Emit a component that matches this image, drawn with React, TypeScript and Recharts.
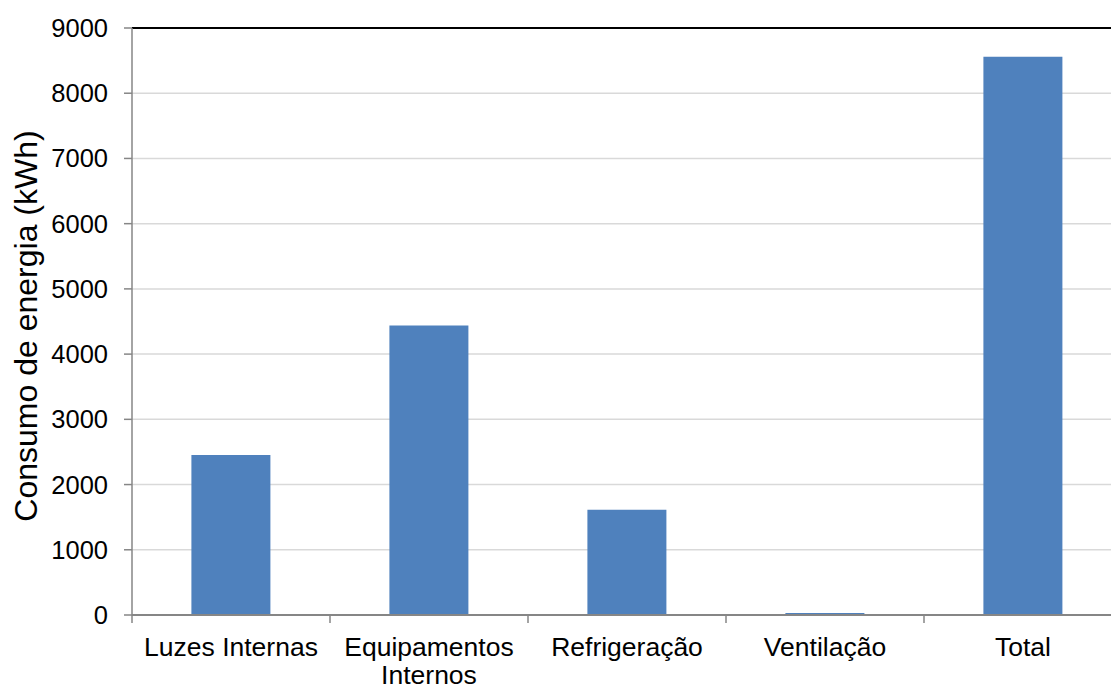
import { BarChart, Bar, XAxis, YAxis, CartesianGrid, ReferenceLine } from 'recharts';

const categories = ['Luzes Internas', 'Equipamentos Internos', 'Refrigeração', 'Ventilação', 'Total'];
const consumo = [2455, 4440, 1615, 30, 8560];
const yTicks = [0, 1000, 2000, 3000, 4000, 5000, 6000, 7000, 8000, 9000];

const data = categories.map((name, i) => ({ name, consumo: consumo[i] }));

const FONT = '"Liberation Sans", Arial, sans-serif';
const CHART_W = 1130;
const CHART_H = 687;
const X_AXIS_H = 30;
const MARGIN = { top: 28, right: 8, left: 0, bottom: 72 - X_AXIS_H };
const Y_AXIS_W = 132;

const CategoryTick = (props: any) => {
    const { x, y, payload } = props;
    const band = (CHART_W - MARGIN.left - MARGIN.right - Y_AXIS_W) / categories.length;
    const label: string = payload.value;
    const lines = label.length > 16 ? label.split(' ') : [label];
    const idx = categories.indexOf(label);
    return (
        <g>
            <line x1={x - band / 2} x2={x - band / 2} y1={y} y2={y + 8} stroke="#868686" strokeWidth={1.5} />
            {idx === categories.length - 1 && (
                <line x1={x + band / 2} x2={x + band / 2} y1={y} y2={y + 8} stroke="#868686" strokeWidth={1.5} />
            )}
            <text x={x} y={y} textAnchor="middle" fontFamily={FONT} fontSize={26.5} fill="#000">
                {lines.map((ln, i) => (
                    <tspan key={i} x={x} y={y + 41 + i * 28}>
                        {ln}
                    </tspan>
                ))}
            </text>
        </g>
    );
};

const YTitle = () => (
    <text
        x={26}
        y={326}
        transform="rotate(-90, 26, 326)"
        textAnchor="middle"
        dominantBaseline="central"
        fontFamily={FONT}
        fontSize={32}
        fill="#000"
    >
        Consumo de energia (kWh)
    </text>
);

export default function App() {
    return (
        <div style={{ position: 'fixed', left: 0, top: 0, width: 1111, height: 687, overflow: 'hidden', background: '#fff' }}>
            <BarChart width={CHART_W} height={CHART_H} data={data} margin={MARGIN} barCategoryGap="30%">
                <CartesianGrid vertical={false} stroke="#d9d9d9" strokeWidth={1.5} />
                <XAxis
                    dataKey="name"
                    height={X_AXIS_H}
                    tickLine={false}
                    tickSize={0}
                    tickMargin={0}
                    axisLine={{ stroke: '#868686', strokeWidth: 2 }}
                    tick={<CategoryTick />}
                    interval={0}
                />
                <YAxis
                    width={Y_AXIS_W}
                    domain={[0, 9000]}
                    ticks={yTicks}
                    tickSize={8}
                    tickMargin={16}
                    tickLine={{ stroke: '#868686', strokeWidth: 1.5 }}
                    axisLine={{ stroke: '#868686', strokeWidth: 1.5 }}
                    tick={{ fontFamily: FONT, fontSize: 25.5, fill: '#000' }}
                    label={<YTitle />}
                />
                <ReferenceLine y={9000} stroke="#000" strokeWidth={2} />
                <Bar dataKey="consumo" fill="#4f81bd" isAnimationActive={false} />
            </BarChart>
        </div>
    );
}
